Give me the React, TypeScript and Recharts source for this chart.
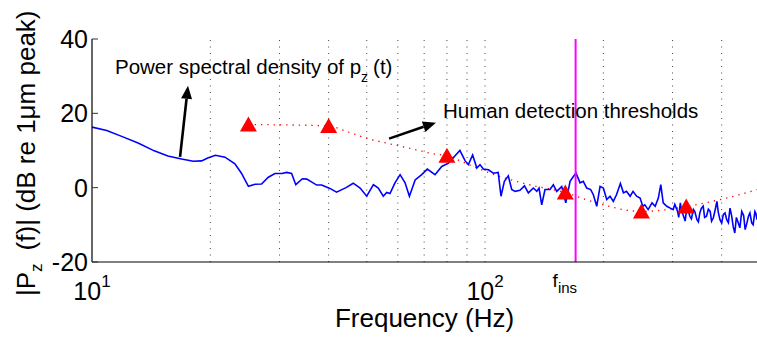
import React from 'react';
import { ComposedChart, Line, Scatter, XAxis, YAxis, ReferenceLine, ReferenceDot } from 'recharts';

// ---- data ----
const psdFreq = [
  10.0, 10.9, 11.9, 13.1, 14.4, 15.6, 16.9, 18.1, 19.0, 19.7, 20.6, 21.8, 23.1, 24.0, 25.0, 26.0, 27.0, 28.1, 29.2, 30.4,
  31.3, 32.2, 33.0, 34.3, 35.2, 37.3, 38.4, 40.3, 41.9, 44.3, 46.2, 48.1, 50.0, 52.0, 53.5, 55.1, 56.2, 57.3, 59.0, 60.8,
  62.6, 64.2, 66.4, 69.0, 71.3, 74.6, 77.6, 80.7, 83.9, 86.3, 89.0, 90.7, 93.0, 95.3, 97.1, 99.0, 102, 105, 108, 109.8,
  112, 114.6, 116.9, 119.2, 122.7, 126, 128.9, 132.7, 135.4, 137.2, 139.4, 142.1, 146.3, 149.2, 152.2, 156.7, 160.5, 164.6, 167.8, 170.4,
  174.5, 177.8, 181.4, 185.7, 188.6, 192.4, 196.2, 200, 204, 208, 212, 216, 221, 225, 229, 234, 238, 243, 248, 252,
  255, 260, 266, 271, 276, 280, 284, 290, 296, 301, 304, 309, 311, 314, 316, 320, 323, 326, 329, 332,
  335, 339, 342, 346, 349, 352, 355, 359, 362, 366, 370, 374, 377, 381, 385, 389, 392, 396, 400, 404,
  408, 412, 416, 420, 424, 428, 432, 436, 441, 445, 450, 455, 459, 463, 468, 472, 477, 481, 486, 489, 492,
];
const psdDb = [
  16.3, 15.4, 13.8, 12.0, 9.9, 8.5, 7.7, 7.1, 7.2, 8.0, 8.7, 8.2, 6.4, 3.9, 0.35, 0.9, 1.0, 2.8, 3.8, 3.8,
  4.1, 3.8, 0.8, 2.4, 2.3, 0.7, 0.7, -0.2, -1.2, 0.0, 1.2, -0.1, -2.3, 0.8, -0.1, -2.3, -1.3, -1.6, 1.3, 3.5,
  1.3, -2.3, 2.1, 3.5, 5.0, 3.5, 5.7, 6.6, 8.6, 10.0, 7.2, 6.2, 8.8, 5.3, 6.2, 5.0, 4.8, 3.9, 4.1, -2.3,
  1.7, 3.2, -0.5, -1.0, -0.7, 0.5, -1.4, -0.1, -1.0, -0.1, -4.6, -0.5, -0.5, 0.8, -1.0, 0.3, -4.1, 1.7, 3.0, 3.9,
  1.3, 1.7, -0.1, -0.5, -1.9, -5.0, 0.35, -0.1, -3.2, -2.3, -3.7, -1.9, 1.1, -1.4, -1.0, -2.3, -1.0, -2.3, -2.8, -5.0,
  -4.6, -5.9, -4.1, -5.0, -2.8, 0.8, -4.1, -5.0, -5.5, -5.9, -4.5, -6.4, -8.0, -4.1, -6.0, -7.7, -9.0, -5.5, -6.2, -7.7,
  -8.4, -5.9, -6.5, -8.6, -9.2, -6.8, -5.6, -5.0, -8.0, -7.7, -5.8, -6.4, -9.0, -8.1, -6.0, -3.7, -6.5, -8.6, -9.5, -7.2,
  -6.8, -8.6, -9.4, -5.5, -7.5, -10.5, -12.2, -8.0, -9.5, -10.8, -6.4, -7.5, -11.3, -9.8, -7.7, -6.8, -9.5, -10.0, -6.4, -7.0, -8.6,
];

const thresholdFreq = [25, 40, 80, 160, 250, 325];
const thresholdDb = [17.0, 16.6, 8.6, -1.3, -6.4, -5.1];

const thresholdCurveFreq = [25, 30, 35, 40, 44.5, 50, 56, 65, 74, 80, 90, 103, 120, 135, 160, 178, 200, 234, 250, 285, 325, 389, 440, 492];
const thresholdCurveDb = [17.0, 16.9, 16.8, 16.6, 15.1, 13.3, 12.0, 10.5, 9.1, 8.6, 6.4, 3.9, 1.7, 0.35, -1.3, -3.0, -4.6, -6.2, -6.4, -6.0, -5.1, -3.4, -2.0, -0.5];

const xTicks = [10, 100];
const yTicks = [-20, 0, 20, 40];
const gridFreqs = [20, 30, 40, 50, 60, 70, 80, 90, 100, 200, 300, 400];
const insFreq = 170;
const xDomain = [10, 492];
const yDomain = [-20, 40];

// annotation anchors in data units (frequency, dB)
const arrowPsd = [{ x: 16.75, y: 8.3 }, { x: 17.55, y: 27.4 }];
const arrowThr = [{ x: 57.0, y: 13.2 }, { x: 75.0, y: 17.5 }];
const psdTextAt = { x: 11.44, y: 30.6 };
const thrTextAt = { x: 78.2, y: 18.8 };

const psdData = psdFreq.map((f, i) => ({ f, v: psdDb[i] }));
const thrData = thresholdFreq.map((f, i) => ({ f, v: thresholdDb[i] }));
const thrCurve = thresholdCurveFreq.map((f, i) => ({ f, v: thresholdCurveDb[i] }));

const FONT = 'Liberation Sans, Arial, Helvetica, sans-serif';

const Triangle = (p: any) => {
  const { cx, cy } = p;
  return <polygon points={`${cx},${cy - 8} ${cx - 8.5},${cy + 7} ${cx + 8.5},${cy + 7}`} fill="#ff0000" />;
};

const Arrow = (p: any) => {
  const { x1, y1, x2, y2 } = p;
  const ang = Math.atan2(y2 - y1, x2 - x1);
  const L = 13, W = 5.5;
  const bx = x2 - L * Math.cos(ang), by = y2 - L * Math.sin(ang);
  const px = -Math.sin(ang) * W, py = Math.cos(ang) * W;
  return (
    <g>
      <line x1={x1} y1={y1} x2={bx} y2={by} stroke="#000" strokeWidth={2.6} />
      <polygon points={`${x2},${y2} ${bx + px},${by + py} ${bx - px},${by - py}`} fill="#000" />
    </g>
  );
};

const YTick = (p: any) => {
  const { x, y, payload } = p;
  return (
    <g>
      <line x1={x} y1={y} x2={x + 6} y2={y} stroke="#333" strokeWidth={1} />
      <text x={x - 4} y={y + 9} textAnchor="end" fontFamily={FONT} fontSize={25} fill="#000">
        {payload.value}
      </text>
    </g>
  );
};

const XTick = (p: any) => {
  const { x, y, payload } = p;
  const exp = Math.round(Math.log10(payload.value));
  return (
    <text x={x} y={y + 38} textAnchor="middle" fontFamily={FONT} fontSize={25} fill="#000">
      <tspan>10</tspan>
      <tspan dy={-13} fontSize={17}>{exp}</tspan>
    </text>
  );
};

const YLabel = () => (
  <text x={35} y={296} transform="rotate(-90 35 296)" fontFamily={FONT} fontSize={26} fill="#000">
    <tspan>|P</tspan>
    <tspan fontSize={17} dy={7}>z</tspan>
    <tspan dy={-7} dx={13}>(f)| (dB re 1μm peak)</tspan>
  </text>
);

const XLabel = (p: any) => {
  const vb = p.viewBox || { x: 92, y: 262, width: 665 };
  return (
    <text x={vb.x + vb.width / 2} y={vb.y + 65} textAnchor="middle" fontFamily={FONT} fontSize={26} fill="#000">
      Frequency (Hz)
    </text>
  );
};

const PsdText = (p: any) => (
  <text x={p.cx} y={p.cy} fontFamily={FONT} fontSize={20.5} fill="#000">
    <tspan>Power spectral density of p</tspan>
    <tspan fontSize={14} dy={8}>z</tspan>
    <tspan dy={-8} dx={5}>(t)</tspan>
  </text>
);

const ThrText = (p: any) => (
  <text x={p.cx} y={p.cy} fontFamily={FONT} fontSize={20.5} fill="#000">
    Human detection thresholds
  </text>
);

const InsText = (p: any) => (
  <text x={p.cx - 23} y={p.cy + 25} fontFamily={FONT} fontSize={19} fill="#000">
    <tspan>f</tspan>
    <tspan fontSize={15} dy={6}>ins</tspan>
  </text>
);

export default function App() {
  return (
    <div style={{ position: 'absolute', left: 0, top: 0, background: '#fff' }}>
      <ComposedChart width={757} height={338} margin={{ top: 39, right: 0, bottom: 0, left: 0 }}>
        <XAxis
          type="number"
          dataKey="f"
          scale="log"
          domain={xDomain}
          allowDataOverflow
          ticks={xTicks}
          tick={<XTick />}
          tickLine={false}
          tickSize={0}
          tickMargin={0}
          height={76}
          axisLine={{ stroke: '#000', strokeWidth: 1.2 }}
          label={{ content: <XLabel /> }}
        />
        <YAxis
          type="number"
          domain={yDomain}
          allowDataOverflow
          ticks={yTicks}
          tick={<YTick />}
          tickLine={false}
          tickSize={0}
          tickMargin={0}
          width={92}
          axisLine={{ stroke: '#000', strokeWidth: 1.2 }}
          label={{ content: <YLabel /> }}
        />
        {gridFreqs.map((g) => (
          <ReferenceLine key={g} x={g} stroke="#444" strokeWidth={1} strokeDasharray="1 5.5" />
        ))}
        <Line
          data={thrCurve}
          dataKey="v"
          type="monotone"
          stroke="#ff0000"
          strokeWidth={1.3}
          strokeDasharray="1.3 5"
          dot={false}
          activeDot={false}
          isAnimationActive={false}
        />
        <Line
          data={psdData}
          dataKey="v"
          type="linear"
          stroke="#0000ff"
          strokeWidth={1.6}
          dot={false}
          activeDot={false}
          isAnimationActive={false}
        />
        <ReferenceLine x={insFreq} stroke="#ff00ff" strokeWidth={2} />
        <Scatter data={thrData} dataKey="v" shape={<Triangle />} isAnimationActive={false} />
        <ReferenceLine segment={arrowPsd} shape={<Arrow />} />
        <ReferenceLine segment={arrowThr} shape={<Arrow />} />
        <ReferenceDot x={psdTextAt.x} y={psdTextAt.y} r={0} shape={<PsdText />} />
        <ReferenceDot x={thrTextAt.x} y={thrTextAt.y} r={0} shape={<ThrText />} />
        <ReferenceDot x={insFreq} y={-20} r={0} ifOverflow="visible" shape={<InsText />} />
      </ComposedChart>
    </div>
  );
}
